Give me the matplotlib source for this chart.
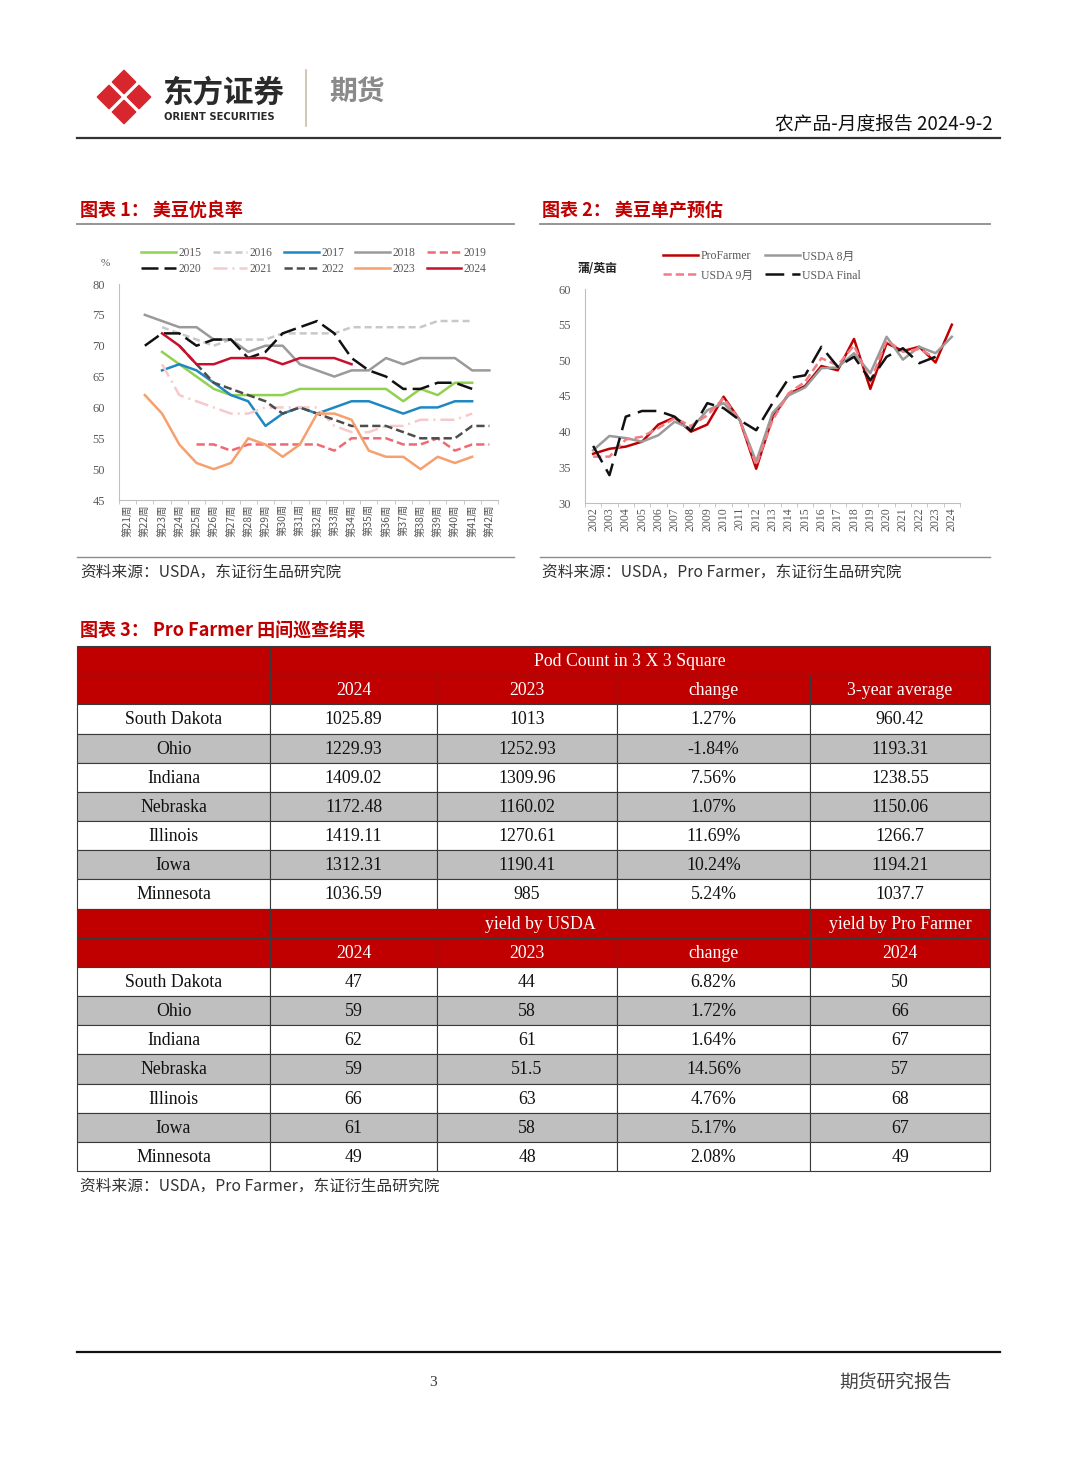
import numpy as np
import matplotlib
matplotlib.use("Agg")
import matplotlib.pyplot as plt
from matplotlib.patches import Rectangle, RegularPolygon

nan = np.nan
CJK = ['Noto Sans CJK SC', 'DejaVu Sans']
SERIF = ['Liberation Serif', 'Noto Sans CJK SC']

# ---------------- Chart 1: soybean good/excellent ratings (%) ----------------
week_labels = ["第21周", "第22周", "第23周", "第24周", "第25周", "第26周", "第27周", "第28周",
               "第29周", "第30周", "第31周", "第32周", "第33周", "第34周", "第35周", "第36周",
               "第37周", "第38周", "第39周", "第40周", "第41周", "第42周"]
ge_2015 = [nan, nan, 69, 67, 65, 63, 62, 62, 62, 62, 63, 63, 63, 63, 63, 63, 61, 63, 62, 64, 64, nan]
ge_2016 = [nan, nan, 73, 72, 71, 70, 71, 71, 71, 72, 72, 72, 72, 73, 73, 73, 73, 73, 74, 74, 74, nan]
ge_2017 = [nan, nan, 66, 67, 66, 64, 62, 61, 57, 59, 60, 59, 60, 61, 61, 60, 59, 60, 60, 61, 61, nan]
ge_2018 = [nan, 75, 74, 73, 73, 71, 71, 69, 70, 70, 67, 66, 65, 66, 66, 68, 67, 68, 68, 68, 66, 66]
ge_2019 = [nan, nan, nan, nan, 54, 54, 53, 54, 54, 54, 54, 54, 53, 55, 55, 55, 54, 54, 55, 53, 54, 54]
ge_2020 = [nan, 70, 72, 72, 70, 71, 71, 68, 69, 72, 73, 74, 72, 68, 66, 65, 63, 63, 64, 64, 63, nan]
ge_2021 = [nan, nan, 67, 62, 61, 60, 59, 59, 60, 60, 60, 60, 57, 56, 56, 57, 57, 58, 58, 58, 59, nan]
ge_2022 = [nan, nan, nan, 70, 67, 64, 63, 62, 61, 59, 60, 59, 58, 57, 57, 57, 56, 55, 55, 55, 57, 57]
ge_2023 = [nan, 62, 59, 54, 51, 50, 51, 55, 54, 52, 54, 59, 59, 58, 53, 52, 52, 50, 52, 51, 52, nan]
ge_2024 = [nan, nan, 72, 70, 67, 67, 68, 68, 68, 67, 68, 68, 68, 67, nan, nan, nan, nan, nan, nan, nan, nan]
ge_years = ["2015", "2016", "2017", "2018", "2019", "2020", "2021", "2022", "2023", "2024"]

# ---------------- Chart 2: US soybean yield estimates (bu/acre) ----------------
yield_years = ["2002", "2003", "2004", "2005", "2006", "2007", "2008", "2009", "2010", "2011", "2012",
               "2013", "2014", "2015", "2016", "2017", "2018", "2019", "2020", "2021", "2022", "2023", "2024"]
profarmer = [36.9, 37.6, 37.9, 38.6, 41.0, 42.0, 40.0, 41.0, 44.9, 41.6, 34.8, 42.0, 45.3, 46.4, 49.2,
             48.6, 53.0, 46.0, 52.4, 51.3, 51.9, 49.7, 55.0]
usda_aug = [37.4, 39.4, 39.1, 38.6, 39.5, 41.4, 40.4, 43.0, 44.0, 41.6, 35.8, 42.6, 45.1, 46.2, 48.9,
            49.0, 51.0, 48.2, 53.3, 50.1, 51.9, 51.0, 53.3]
usda_sep = [36.5, 36.5, 38.9, 39.3, 40.5, 41.9, 40.8, 42.3, 44.7, 41.6, 35.3, 41.6, 45.4, 47.0, 50.3,
            49.3, 52.1, 47.0, 52.8, 51.2, 51.6, 50.3, nan]
usda_final = [38.0, 33.9, 42.1, 42.9, 42.9, 42.1, 40.1, 44.0, 43.3, 41.6, 40.2, 44.0, 47.5, 47.9, 51.9,
              49.1, 50.5, 47.2, 50.5, 51.7, 49.6, 50.5, nan]

# ---------------- Table 3: Pro Farmer crop tour ----------------
states = ["South Dakota", "Ohio", "Indiana", "Nebraska", "Illinois", "Iowa", "Minnesota"]
pod_2024 = ["1025.89", "1229.93", "1409.02", "1172.48", "1419.11", "1312.31", "1036.59"]
pod_2023 = ["1013", "1252.93", "1309.96", "1160.02", "1270.61", "1190.41", "985"]
pod_change = ["1.27%", "-1.84%", "7.56%", "1.07%", "11.69%", "10.24%", "5.24%"]
pod_3yr = ["960.42", "1193.31", "1238.55", "1150.06", "1266.7", "1194.21", "1037.7"]
usda_y2024 = ["47", "59", "62", "59", "66", "61", "49"]
usda_y2023 = ["44", "58", "61", "51.5", "63", "58", "48"]
usda_ychange = ["6.82%", "1.72%", "1.64%", "14.56%", "4.76%", "5.17%", "2.08%"]
pf_y2024 = ["50", "66", "67", "57", "68", "67", "49"]

W, H = 1080, 1466
fig = plt.figure(figsize=(W / 100, H / 100), dpi=100)
fig.patch.set_facecolor('white')
ov = fig.add_axes([0, 0, 1, 1])
ov.set_xlim(0, W)
ov.set_ylim(H, 0)
ov.axis('off')


def fax(x0, y0, x1, y1):
    return fig.add_axes([x0 / W, 1 - y1 / H, (x1 - x0) / W, (y1 - y0) / H])


RED = '#C00000'

# ---------------- Header ----------------
for cx, cy in [(124, 82), (109, 97), (139, 97), (124, 112)]:
    ov.add_patch(RegularPolygon((cx, cy), numVertices=4, radius=11.5, orientation=0,
                                facecolor='#D7262E', edgecolor='#D7262E', lw=1.2, joinstyle='round'))
ov.text(162, 93, "东方证券", fontsize=22, fontweight='bold', family=CJK, color='#2a2a2a',
        ha='left', va='center')
ov.text(164, 117, "ORIENT SECURITIES", fontsize=7.2, fontweight='bold', family=['DejaVu Sans'],
        color='#2a2a2a', ha='left', va='center')
ov.plot([306, 306], [70, 126], color='#C9BFA5', lw=1.2)
ov.text(329, 93, "期货", fontsize=20, fontweight='bold', family=CJK, color='#8a8a8a',
        ha='left', va='center')
ov.text(993, 124, "农产品-月度报告 2024-9-2", fontsize=13.5, family=CJK, color='#111111',
        ha='right', va='center')
ov.plot([77, 1000], [138, 138], color='#333333', lw=1.6)

# ---------------- Captions ----------------
ov.text(80, 210, "图表 1： 美豆优良率", fontsize=13, fontweight='bold', family=CJK, color=RED,
        ha='left', va='center')
ov.plot([77, 514], [224, 224], color='#8c8c8c', lw=1.3)
ov.text(542, 210, "图表 2： 美豆单产预估", fontsize=13, fontweight='bold', family=CJK, color=RED,
        ha='left', va='center')
ov.plot([540, 990], [224, 224], color='#8c8c8c', lw=1.3)

ov.plot([77, 514], [557, 557], color='#8c8c8c', lw=1.0)
ov.plot([540, 990], [557, 557], color='#8c8c8c', lw=1.0)
ov.text(80, 572, "资料来源：USDA，东证衍生品研究院", fontsize=11.3, family=SERIF[::-1], color='#333333',
        ha='left', va='center')
ov.text(542, 572, "资料来源：USDA，Pro Farmer，东证衍生品研究院", fontsize=11.3, family=SERIF[::-1],
        color='#333333', ha='left', va='center')


def style_axes(ax):
    for s in ['top', 'right']:
        ax.spines[s].set_visible(False)
    for s in ['left', 'bottom']:
        ax.spines[s].set_color('#BFBFBF')
        ax.spines[s].set_linewidth(0.8)
    ax.tick_params(axis='y', length=0, pad=10, labelsize=9, labelcolor='#595959')
    ax.tick_params(axis='x', which='major', length=0, pad=3, labelcolor='#595959')
    ax.tick_params(axis='x', which='minor', length=3, color='#BFBFBF', direction='out')
    for t in ax.get_yticklabels():
        t.set_family(SERIF)
    ax.set_facecolor('none')


# ---------------- Chart 1 ----------------
ax1 = fax(119, 284, 498, 500)
xw = np.arange(len(week_labels))
ge_series = [ge_2015, ge_2016, ge_2017, ge_2018, ge_2019, ge_2020, ge_2021, ge_2022, ge_2023, ge_2024]
ge_colors = ['#92D050', '#C8C8C8', '#1F88C2', '#9A9A9A', '#EE6A72', '#111111', '#F6CACA',
             '#4D4D4D', '#F5A06E', '#C8102E']
ge_dashes = [None, (2.8, 1.6), None, None, (3.3, 1.6), (6.8, 2.4), (5.6, 2.0, 0.8, 2.0),
             (3.3, 1.6), None, None]
handles = []
for lab, vals, col, dsh in zip(ge_years, ge_series, ge_colors, ge_dashes):
    ln, = ax1.plot(xw, vals, color=col, lw=1.8, label=lab)
    if dsh:
        ln.set_dashes(dsh)
    handles.append(ln)
ax1.set_xlim(-0.5, len(xw) - 0.5)
ax1.set_ylim(45, 80)
ax1.set_yticks(range(45, 81, 5))
ax1.set_xticks(xw)
ax1.set_xticklabels(week_labels, rotation=90, family=CJK, fontsize=7.5)
ax1.set_xticks(np.arange(-0.5, len(xw)), minor=True)
style_axes(ax1)
order = [0, 5, 1, 6, 2, 7, 3, 8, 4, 9]
fig.legend([handles[i] for i in order], [ge_years[i] for i in order], ncol=5,
           loc='center', bbox_to_anchor=(314 / W, 1 - 261 / H), frameon=False,
           prop={'family': SERIF, 'size': 8.3}, labelcolor='#595959',
           handlelength=3.0, handletextpad=0.2, columnspacing=1.0, labelspacing=0.35)
ov.text(105, 263, "%", fontsize=8, family=SERIF, color='#595959', ha='center', va='center')

# ---------------- Chart 2 ----------------
ax2 = fax(585, 289, 960, 503)
xy = np.arange(len(yield_years))
l_pf, = ax2.plot(xy, profarmer, color='#C00000', lw=1.8, label='ProFarmer')
l_a8, = ax2.plot(xy, usda_aug, color='#9A9A9A', lw=1.8, label='USDA 8月')
l_s9, = ax2.plot(xy, usda_sep, color='#F07C84', lw=1.8, label='USDA 9月')
l_s9.set_dashes((3.3, 1.6))
l_fn, = ax2.plot(xy, usda_final, color='#111111', lw=1.8, label='USDA Final')
l_fn.set_dashes((7.5, 3.2))
ax2.set_xlim(-0.5, len(xy) - 0.5)
ax2.set_ylim(30, 60)
ax2.set_yticks(range(30, 61, 5))
ax2.set_xticks(xy)
ax2.set_xticklabels(yield_years, rotation=90, family=SERIF, fontsize=8.5)
ax2.set_xticks(np.arange(-0.5, len(xy)), minor=True)
style_axes(ax2)
fig.legend([l_pf, l_s9, l_a8, l_fn], ['ProFarmer', 'USDA 9月', 'USDA 8月', 'USDA Final'], ncol=2,
           loc='center', bbox_to_anchor=(762 / W, 1 - 266 / H), frameon=False,
           prop={'family': SERIF, 'size': 8.5}, labelcolor='#595959',
           handlelength=3.0, handletextpad=0.2, columnspacing=1.0, labelspacing=0.6)
ov.text(598, 268, "蒲/英亩", fontsize=8.5, fontweight='bold', family=CJK, color='#222222',
        ha='center', va='center')

# ---------------- Table ----------------
ov.text(80, 631, "图表 3： Pro Farmer 田间巡查结果", fontsize=13, fontweight='bold', family=CJK,
        color=RED, ha='left', va='center')
cols = [77, 270, 437, 617, 810, 990]
top = 646
rh = (1171 - 646) / 18

rows = []
rows.append(('h', [(0, 1, ""), (1, 5, "Pod Count in 3 X 3 Square")]))
rows.append(('h', [(0, 1, ""), (1, 2, "2024"), (2, 3, "2023"), (3, 4, "change"), (4, 5, "3-year average")]))
for i, st in enumerate(states):
    rows.append(('d%d' % (i % 2), [(0, 1, st), (1, 2, pod_2024[i]), (2, 3, pod_2023[i]),
                                    (3, 4, pod_change[i]), (4, 5, pod_3yr[i])]))
rows.append(('h', [(0, 1, ""), (1, 4, "yield by USDA"), (4, 5, "yield by Pro Farmer")]))
rows.append(('h', [(0, 1, ""), (1, 2, "2024"), (2, 3, "2023"), (3, 4, "change"), (4, 5, "2024")]))
for i, st in enumerate(states):
    rows.append(('d%d' % (i % 2), [(0, 1, st), (1, 2, usda_y2024[i]), (2, 3, usda_y2023[i]),
                                    (3, 4, usda_ychange[i]), (4, 5, pf_y2024[i])]))

for r, (kind, cells) in enumerate(rows):
    y0 = top + r * rh
    if kind == 'h':
        fc, tc = RED, 'white'
    elif kind == 'd0':
        fc, tc = 'white', '#111111'
    else:
        fc, tc = '#BFBFBF', '#111111'
    for a, b, txt in cells:
        ov.add_patch(Rectangle((cols[a], y0), cols[b] - cols[a], rh, facecolor=fc,
                               edgecolor='#3a3a3a', lw=0.8))
        if txt:
            ov.text((cols[a] + cols[b]) / 2, y0 + rh / 2 + 1, txt, fontsize=12.8, family=SERIF,
                    color=tc, ha='center', va='center')

ov.text(80, 1186, "资料来源：USDA，Pro Farmer，东证衍生品研究院", fontsize=11.3, family=SERIF[::-1],
        color='#333333', ha='left', va='center')

# ---------------- Footer ----------------
ov.plot([77, 1000], [1352, 1352], color='#111111', lw=1.6)
ov.text(433, 1382, "3", fontsize=11, family=SERIF, color='#333333', ha='center', va='center')
ov.text(895, 1382, "期货研究报告", fontsize=13.5, family=CJK, color='#444444', ha='center', va='center')

fig.savefig("out.png", dpi=100, facecolor='white')
